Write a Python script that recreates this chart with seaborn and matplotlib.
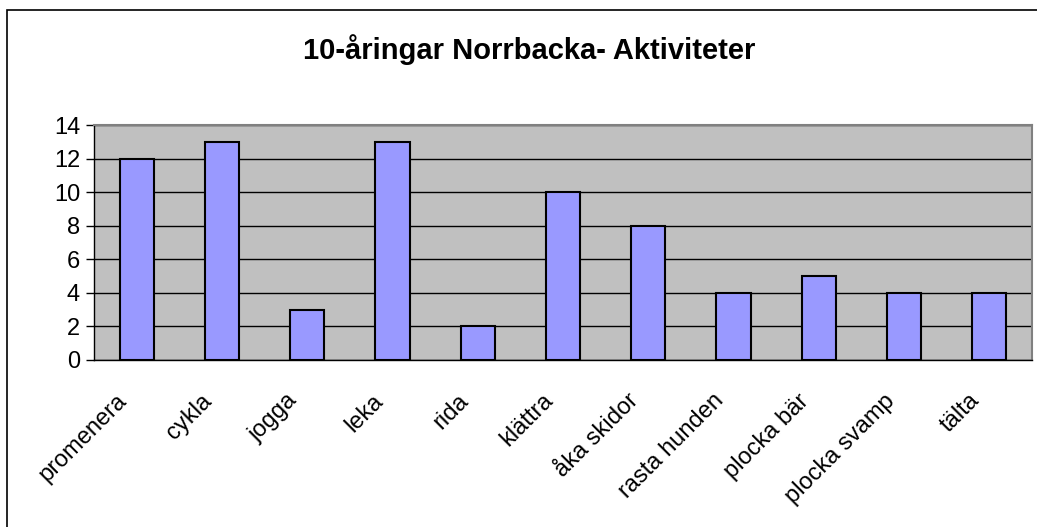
import matplotlib
matplotlib.use("Agg")
import matplotlib.pyplot as plt
import matplotlib.transforms as mtransforms
import seaborn as sns
import pandas as pd
from matplotlib.patches import Rectangle

categories = ["promenera", "cykla", "jogga", "leka", "rida", "klättra",
              "åka skidor", "rasta hunden", "plocka bär", "plocka svamp", "tälta"]
values = [12, 13, 3, 13, 2, 10, 8, 4, 5, 4, 4]
yticks = [0, 2, 4, 6, 8, 10, 12, 14]
title = "10-åringar Norrbacka- Aktiviteter"

sns.set_style("white")
plt.rcParams["font.family"] = ["Liberation Sans", "DejaVu Sans"]
plt.rcParams["text.color"] = "black"
plt.rcParams["xtick.color"] = "black"
plt.rcParams["ytick.color"] = "black"
plt.rcParams["xtick.labelcolor"] = "black"
plt.rcParams["ytick.labelcolor"] = "black"

W, H = 1037, 527
fig = plt.figure(figsize=(W / 100, H / 100), dpi=100)
ax = fig.add_axes([94 / W, 1 - 360 / H, (1032 - 94) / W, (360 - 125) / H])

df = pd.DataFrame({"cat": categories, "val": values})
sns.barplot(data=df, x="cat", y="val", ax=ax, color="#9999FF",
            saturation=1, width=0.4, edgecolor="black", linewidth=1.5, zorder=3)

ax.set_facecolor("#C0C0C0")
ax.set_ylim(0, 14)
ax.set_xlim(-0.5, len(categories) - 0.5)
ax.set_yticks(yticks)
ax.set_yticklabels([str(t) for t in yticks], fontsize=17, color="black")
ax.yaxis.grid(True, color="black", linewidth=1, zorder=0)
ax.set_axisbelow(True)
ax.set_xlabel("")
ax.set_ylabel("")

ax.set_xticks(range(len(categories)))
ax.set_xticklabels(categories, rotation=45, ha="right", va="center",
                   rotation_mode="anchor", fontsize=17, color="black")
ax.set_xticks([i - 0.5 for i in range(len(categories) + 1)], minor=True)
ax.tick_params(axis="x", which="major", length=0, pad=27)
ax.tick_params(axis="x", which="minor", length=6, width=1, color="black", direction="out")
ax.tick_params(axis="y", which="major", length=6, width=1, color="black", direction="out", left=True, pad=4)

offset = mtransforms.ScaledTranslation(-13 / 100, 0, fig.dpi_scale_trans)
for lbl in ax.get_xticklabels():
    lbl.set_transform(lbl.get_transform() + offset)

for s in ["top", "right"]:
    ax.spines[s].set_color("#808080")
    ax.spines[s].set_linewidth(1.5)
for s in ["left", "bottom"]:
    ax.spines[s].set_color("black")
    ax.spines[s].set_linewidth(1)

fig.text(529 / W, 1 - 50 / H, title, ha="center", va="center",
         fontsize=21, fontweight="bold", color="black")

fig.patches.append(Rectangle((7 / W, -0.1), 1.2, 1 - 10 / H + 0.1,
                             transform=fig.transFigure, fill=False,
                             edgecolor="black", linewidth=1.2))

fig.savefig("out.png", dpi=100, facecolor="white")
